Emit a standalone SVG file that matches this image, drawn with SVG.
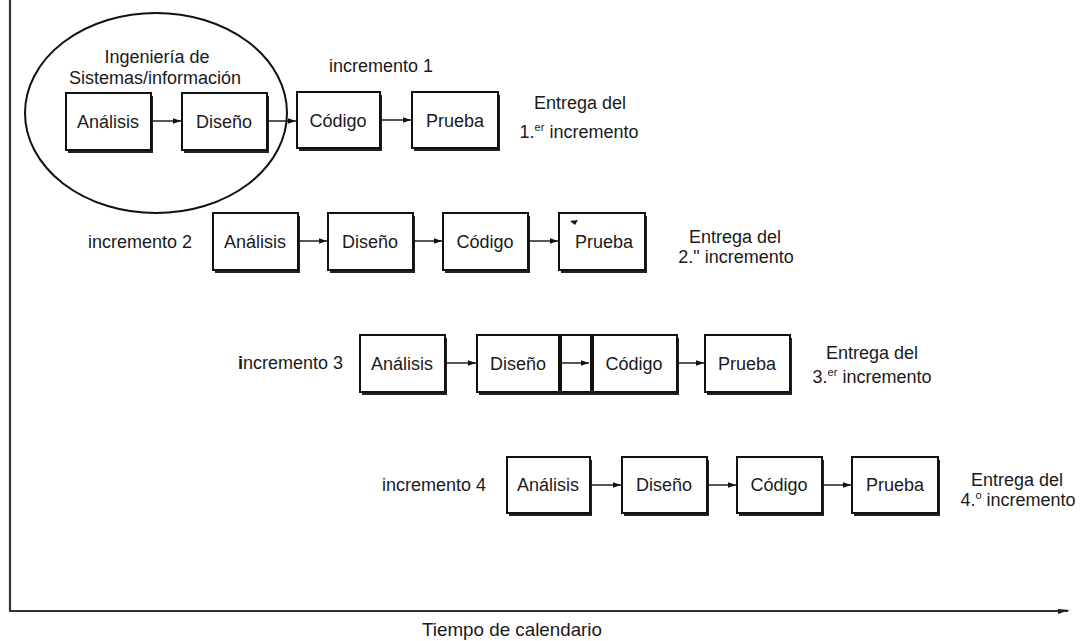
<svg xmlns="http://www.w3.org/2000/svg" width="1086" height="641" viewBox="0 0 1086 641">
<defs>
<style>
text{font-family:"Liberation Sans",Arial,sans-serif;fill:#1a1a1a;}
.lbl{font-size:18px;text-anchor:middle;}
.inc{font-size:18px;}
.ent{font-size:18px;text-anchor:middle;}
.sup{font-size:11px;}
.box{fill:#fff;stroke:#111;stroke-width:2;}
.sh{fill:#222;}
.arr{stroke:#111;stroke-width:1.4;fill:none;marker-end:url(#ah);}
.axis{stroke:#333;stroke-width:2.2;fill:none;}
</style>
<marker id="ah" viewBox="0 0 10 10" refX="10" refY="5" markerWidth="9" markerHeight="8" markerUnits="userSpaceOnUse" orient="auto">
<path d="M0,1.5 L10,5 L0,8.5 z" fill="#111"/>
</marker>
</defs>
<rect width="1086" height="641" fill="#fff"/>

<g id="axes">
<path class="axis" d="M10,0 V611 H1068"/>
<path d="M1058,609 L1070,610 L1058,614 z" fill="#222"/>
<text x="512" y="636" font-size="19" text-anchor="middle" textLength="180" lengthAdjust="spacingAndGlyphs">Tiempo de calendario</text>
</g>

<g id="ellipse-ingenieria">
<ellipse cx="156" cy="113" rx="131" ry="100" fill="none" stroke="#111" stroke-width="2"/>
<text x="157" y="63" class="lbl">Ingeniería de</text>
<text x="155" y="84" class="lbl">Sistemas/información</text>
</g>

<g id="row1">
<text x="381" y="72" class="inc" text-anchor="middle">incremento 1</text>
<g id="r1-analisis"><rect class="sh" x="68" y="96" width="85" height="57"/><rect class="box" x="66" y="93" width="85" height="57"/><text class="lbl" x="108" y="128">Análisis</text></g>
<g id="r1-diseno"><rect class="sh" x="184" y="96" width="85" height="57"/><rect class="box" x="182" y="93" width="85" height="57"/><text class="lbl" x="224" y="128">Diseño</text></g>
<g id="r1-codigo"><rect class="sh" x="299" y="95" width="83" height="56"/><rect class="box" x="297" y="92" width="83" height="56"/><text class="lbl" x="338" y="127">Código</text></g>
<g id="r1-prueba"><rect class="sh" x="414" y="95" width="86" height="56"/><rect class="box" x="412" y="92" width="86" height="56"/><text class="lbl" x="455" y="127">Prueba</text></g>
<g id="r1-entrega">
<text class="ent" x="580" y="109">Entrega del</text>
<text class="ent" x="579" y="138">1.<tspan class="sup" dy="-7">er</tspan><tspan dy="7"> incremento</tspan></text>
</g>
</g>

<g id="row2">
<text x="88" y="248" class="inc">incremento 2</text>
<g id="r2-analisis"><rect class="sh" x="215" y="216" width="85" height="57"/><rect class="box" x="213" y="213" width="85" height="57"/><text class="lbl" x="255" y="248">Análisis</text></g>
<g id="r2-diseno"><rect class="sh" x="330" y="216" width="85" height="57"/><rect class="box" x="328" y="213" width="85" height="57"/><text class="lbl" x="370" y="248">Diseño</text></g>
<g id="r2-codigo"><rect class="sh" x="445" y="216" width="85" height="57"/><rect class="box" x="443" y="213" width="85" height="57"/><text class="lbl" x="485" y="248">Código</text></g>
<g id="r2-prueba"><rect class="sh" x="561" y="216" width="86" height="57"/><rect class="box" x="559" y="213" width="86" height="57"/><path d="M570,221 L578,220 L575,225 z" fill="#111"/><text class="lbl" x="604" y="248">Prueba</text></g>
<g id="r2-entrega">
<text class="ent" x="735" y="243">Entrega del</text>
<text class="ent" x="736" y="263">2." incremento</text>
</g>
</g>

<g id="row3">
<text x="238" y="369" class="inc"><tspan font-weight="bold">i</tspan>ncremento 3</text>
<g id="r3-analisis"><rect class="sh" x="362" y="338" width="85" height="57"/><rect class="box" x="360" y="335" width="85" height="57"/><text class="lbl" x="402" y="370">Análisis</text></g>
<g id="r3-diseno-codigo">
<rect class="sh" x="479" y="338" width="200" height="57"/>
<rect class="box" x="477" y="335" width="200" height="57"/>
<line x1="560" y1="335" x2="560" y2="392" stroke="#111" stroke-width="4"/>
<line x1="592" y1="335" x2="592" y2="392" stroke="#111" stroke-width="4"/>
<text class="lbl" x="518" y="370">Diseño</text>
<text class="lbl" x="634" y="370">Código</text>
</g>
<g id="r3-prueba"><rect class="sh" x="707" y="338" width="85" height="57"/><rect class="box" x="705" y="335" width="85" height="57"/><text class="lbl" x="747" y="370">Prueba</text></g>
<g id="r3-entrega">
<text class="ent" x="872" y="359">Entrega del</text>
<text class="ent" x="872" y="383">3.<tspan class="sup" dy="-7">er</tspan><tspan dy="7"> incremento</tspan></text>
</g>
</g>

<g id="row4">
<text x="382" y="491" class="inc">incremento 4</text>
<g id="r4-analisis"><rect class="sh" x="509" y="460" width="83" height="56"/><rect class="box" x="507" y="457" width="83" height="56"/><text class="lbl" x="548" y="491">Análisis</text></g>
<g id="r4-diseno"><rect class="sh" x="624" y="460" width="85" height="56"/><rect class="box" x="622" y="457" width="85" height="56"/><text class="lbl" x="664" y="491">Diseño</text></g>
<g id="r4-codigo"><rect class="sh" x="739" y="460" width="85" height="56"/><rect class="box" x="737" y="457" width="85" height="56"/><text class="lbl" x="779" y="491">Código</text></g>
<g id="r4-prueba"><rect class="sh" x="854" y="460" width="86" height="56"/><rect class="box" x="852" y="457" width="86" height="56"/><text class="lbl" x="895" y="491">Prueba</text></g>
<g id="r4-entrega">
<text class="ent" x="1017" y="486">Entrega del</text>
<text class="ent" x="1018" y="506">4.<tspan class="sup" dy="-7">o</tspan><tspan dy="7"> incremento</tspan></text>
</g>
</g>

<g id="connectors">
<line class="arr" x1="152" y1="121" x2="181" y2="121"/>
<line class="arr" x1="268" y1="121" x2="296" y2="121"/>
<line class="arr" x1="381" y1="120" x2="411" y2="120"/>
<line class="arr" x1="299" y1="241" x2="327" y2="241"/>
<line class="arr" x1="414" y1="241" x2="442" y2="241"/>
<line class="arr" x1="529" y1="241" x2="558" y2="241"/>
<line class="arr" x1="446" y1="363" x2="476" y2="363"/>
<line class="arr" x1="562" y1="363" x2="589" y2="363"/>
<line class="arr" x1="678" y1="363" x2="704" y2="363"/>
<line class="arr" x1="591" y1="485" x2="621" y2="485"/>
<line class="arr" x1="708" y1="485" x2="736" y2="485"/>
<line class="arr" x1="823" y1="485" x2="851" y2="485"/>
</g>
</svg>
